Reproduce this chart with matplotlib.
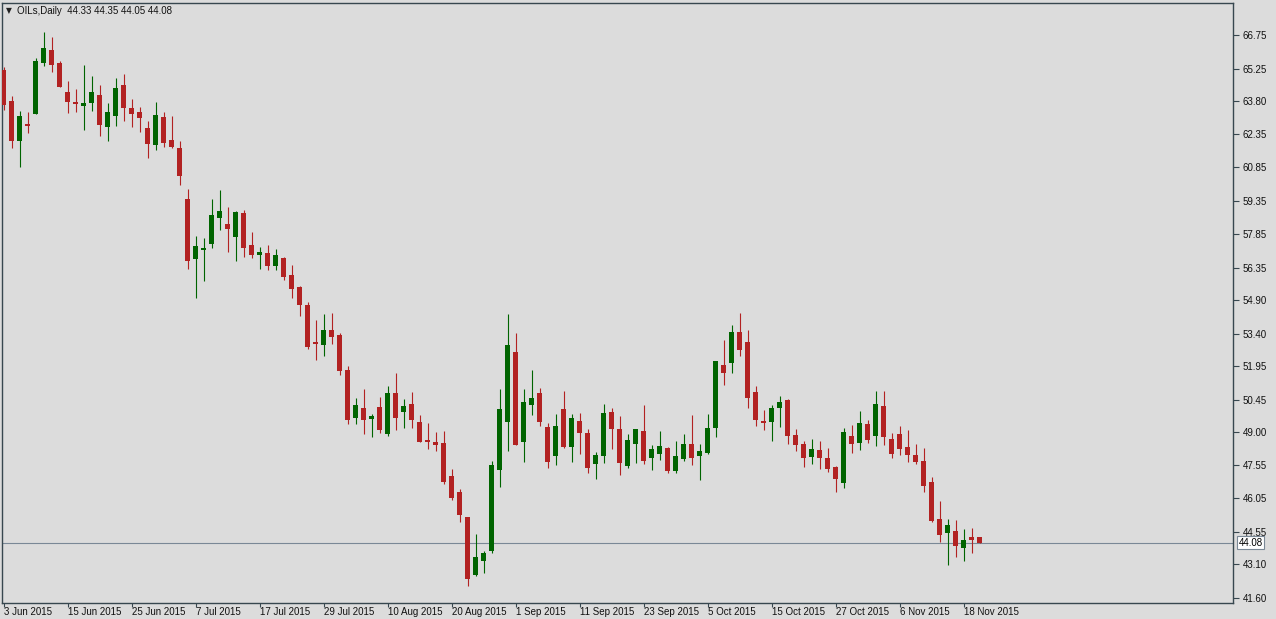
import matplotlib
matplotlib.use("Agg")
import matplotlib.pyplot as plt
import numpy as np

# ---- data ----
opens = [65.19, 63.80, 62.03, 62.78, 63.23, 65.51, 66.08, 65.50, 64.20, 63.76,
         63.59, 63.73, 64.07, 62.65, 63.15, 64.52, 63.49, 63.31, 62.60, 61.85,
         63.09, 62.06, 61.70, 59.43, 56.75, 57.15, 57.43, 58.59, 58.31, 57.74,
         58.80, 57.37, 56.94, 57.01, 56.45, 56.79, 56.03, 55.49, 54.69, 53.04,
         52.92, 53.57, 53.35, 51.79, 49.64, 50.09, 49.60, 50.14, 48.93, 50.76,
         49.91, 50.27, 49.47, 48.66, 48.57, 48.53, 47.05, 46.34, 45.22, 42.65,
         43.27, 43.72, 47.33, 49.48, 52.59, 48.59, 50.24, 50.76, 49.24, 47.96,
         50.05, 48.36, 49.51, 48.97, 47.60, 47.96, 49.91, 49.15, 47.51, 48.50,
         49.06, 47.87, 48.05, 48.31, 47.29, 47.83, 48.48, 47.96, 48.09, 49.21,
         52.01, 52.11, 53.49, 53.04, 50.81, 49.51, 49.48, 50.10, 50.45, 48.88,
         48.48, 47.92, 48.21, 47.86, 47.46, 46.75, 48.84, 48.54, 49.38, 48.85,
         50.18, 48.71, 48.93, 48.35, 47.99, 47.72, 46.79, 45.13, 44.52, 44.60,
         43.85, 44.33, 44.33]
highs = [65.33, 64.04, 63.36, 63.30, 65.72, 66.88, 66.66, 65.59, 64.70, 64.34,
         65.41, 64.92, 64.52, 63.71, 64.83, 65.01, 63.89, 63.53, 62.91, 63.76,
         63.31, 63.13, 62.02, 59.87, 57.77, 57.68, 59.43, 59.83, 59.07, 58.89,
         58.93, 57.95, 57.28, 57.37, 57.20, 56.83, 56.48, 55.54, 54.83, 54.02,
         54.29, 54.33, 53.44, 51.97, 50.54, 50.94, 49.82, 50.58, 51.07, 51.65,
         50.49, 50.81, 49.78, 49.42, 49.02, 49.06, 47.37, 46.47, 45.24, 44.46,
         43.70, 47.72, 50.94, 54.29, 53.44, 50.94, 51.80, 50.98, 49.42, 49.82,
         50.85, 49.82, 49.87, 49.15, 48.13, 50.27, 50.09, 49.73, 48.93, 49.17,
         50.22, 48.44, 49.06, 48.35, 48.62, 48.93, 49.78, 48.48, 49.82, 52.21,
         53.13, 53.80, 54.33, 53.57, 51.07, 50.00, 50.22, 50.63, 50.49, 49.15,
         48.62, 48.71, 48.62, 48.31, 47.50, 49.20, 49.33, 49.96, 49.55, 50.85,
         50.85, 48.97, 49.29, 49.11, 48.48, 48.31, 47.01, 45.94, 45.13, 45.09,
         44.69, 44.73, 44.35]
lows = [63.40, 61.72, 60.87, 62.39, 63.20, 65.38, 65.11, 64.42, 63.28, 63.32,
        62.52, 63.37, 62.25, 62.03, 62.70, 62.92, 62.65, 62.43, 61.27, 61.63,
        61.76, 61.70, 60.06, 56.30, 55.02, 55.78, 57.25, 58.04, 57.07, 56.67,
        56.85, 56.80, 56.31, 56.27, 56.27, 55.82, 55.02, 54.21, 52.74, 52.25,
        52.43, 52.96, 51.58, 49.38, 49.38, 48.93, 48.80, 48.97, 48.84, 49.11,
        49.20, 49.20, 48.55, 48.26, 48.17, 46.71, 46.00, 45.01, 42.15, 42.60,
        42.73, 43.63, 46.58, 48.18, 48.43, 47.69, 49.79, 49.30, 47.42, 47.56,
        48.32, 47.69, 48.05, 47.20, 46.93, 47.65, 48.27, 47.11, 47.42, 47.65,
        47.60, 47.33, 47.78, 47.20, 47.20, 47.74, 47.56, 46.89, 48.05, 48.81,
        51.13, 51.67, 52.43, 50.10, 49.30, 49.12, 48.63, 49.26, 48.50, 48.18,
        47.47, 47.60, 47.38, 47.25, 46.35, 46.53, 48.09, 48.23, 48.54, 48.41,
        48.45, 47.87, 48.00, 47.69, 47.60, 46.35, 45.01, 44.12, 43.09, 43.45,
        43.27, 43.63, 44.05]
closes = [63.62, 62.03, 63.13, 62.70, 65.59, 66.17, 65.42, 64.44, 63.77, 63.68,
          63.71, 64.20, 62.74, 63.31, 64.38, 63.50, 63.23, 63.06, 61.90, 63.18,
          61.94, 61.76, 60.47, 56.67, 57.33, 57.24, 58.71, 58.89, 58.09, 58.84,
          57.25, 56.94, 57.06, 56.45, 56.92, 55.95, 55.42, 54.70, 52.83, 52.96,
          53.57, 53.28, 51.76, 49.55, 50.22, 49.55, 49.73, 49.11, 50.76, 49.64,
          50.18, 49.55, 48.57, 48.57, 48.44, 46.80, 46.08, 45.32, 42.47, 43.44,
          43.61, 47.55, 50.05, 52.90, 48.45, 50.36, 50.54, 49.48, 47.69, 49.29,
          48.36, 49.64, 48.99, 47.42, 47.99, 49.87, 49.17, 47.65, 48.66, 49.15,
          47.74, 48.26, 48.39, 47.29, 47.95, 48.48, 47.87, 48.17, 49.20, 52.19,
          51.67, 53.49, 52.69, 50.55, 49.57, 49.43, 50.09, 50.36, 48.85, 48.45,
          47.87, 48.26, 47.87, 47.38, 46.93, 49.02, 48.50, 49.42, 48.67, 50.27,
          48.81, 48.05, 48.27, 48.00, 47.69, 46.62, 45.06, 44.43, 44.87, 43.94,
          44.20, 44.21, 44.08]

x_labels = ["3 Jun 2015", "15 Jun 2015", "25 Jun 2015", "7 Jul 2015", "17 Jul 2015",
            "29 Jul 2015", "10 Aug 2015", "20 Aug 2015", "1 Sep 2015", "11 Sep 2015",
            "23 Sep 2015", "5 Oct 2015", "15 Oct 2015", "27 Oct 2015", "6 Nov 2015",
            "18 Nov 2015"]
y_labels = ["66.75", "65.25", "63.80", "62.35", "60.85", "59.35", "57.85", "56.35",
            "54.90", "53.40", "51.95", "50.45", "49.00", "47.55", "46.05", "44.55",
            "43.10", "41.60"]
title_text = "OILs,Daily  44.33 44.35 44.05 44.08"
last_price = 44.08

# ---- style ----
BG = "#dcdcdc"
UP = "#006400"
DOWN = "#b22222"
FRAME = "#37474f"

W, H = 1276, 619
fig = plt.figure(figsize=(W / 100, H / 100), dpi=100, facecolor=BG)
ax_left, ax_right, ax_top, ax_bot = 2, 1233, 3, 603
ax = fig.add_axes([ax_left / W, 1 - ax_bot / H, (ax_right - ax_left) / W, (ax_bot - ax_top) / H])
ax.set_facecolor(BG)

n = len(opens)
idx = np.arange(n)
px_per_bar = 8.0
xmin = -0.25
xmax = xmin + (ax_right - ax_left) / px_per_bar
ax.set_xlim(xmin, xmax)
ax.set_ylim(41.38, 68.18)

o = np.array(opens); c = np.array(closes); hi = np.array(highs); lo = np.array(lows)
up = c >= o
cols = np.where(up, UP, DOWN)

ax.vlines(idx, lo, hi, colors=cols, linewidth=0.8, zorder=2)
body_bot = np.minimum(o, c)
body_h = np.maximum(np.abs(c - o), 0.05)
ax.bar(idx, body_h, bottom=body_bot, width=0.625, color=cols, linewidth=0, zorder=3)

# last price line
ax.axhline(last_price, color="#7a8896", linewidth=0.8, zorder=1)

for s in ax.spines.values():
    s.set_color(FRAME)
    s.set_linewidth(1.0)

# y axis on right
yvals = [float(v) for v in y_labels]
ax.yaxis.tick_right()
ax.set_yticks(yvals)
ax.set_yticklabels(y_labels)
ax.tick_params(axis="y", direction="out", length=4, width=0.8, color=FRAME,
               labelsize=7, pad=3, labelcolor="#111111")

xt = [i * 8 for i in range(len(x_labels))]
ax.set_xticks(xt)
ax.set_xticklabels(x_labels, ha="left")
ax.tick_params(axis="x", direction="out", length=3, width=0.8, color=FRAME,
               labelsize=7, pad=0, labelcolor="#111111")

for lbl in ax.get_xticklabels() + ax.get_yticklabels():
    lbl.set_fontfamily("Liberation Sans")

# price tag on right axis
ax.annotate("44.08", xy=(1.0, last_price), xycoords=("axes fraction", "data"),
            xytext=(4, 0), textcoords="offset points", ha="left", va="center",
            fontsize=7, family="Liberation Sans", color="black",
            bbox=dict(boxstyle="square,pad=0.15", fc="white", ec="#7a8896", lw=0.8))

# header
fig.text(6 / W, 1 - 11 / H, "\u25bc", fontsize=5.5, color="#222222", va="center", ha="left",
         family="DejaVu Sans")
fig.text(17 / W, 1 - 11 / H, title_text, fontsize=7, color="#111111", va="center", ha="left",
         family="Liberation Sans")

fig.savefig("out.png", dpi=100, facecolor=BG)
